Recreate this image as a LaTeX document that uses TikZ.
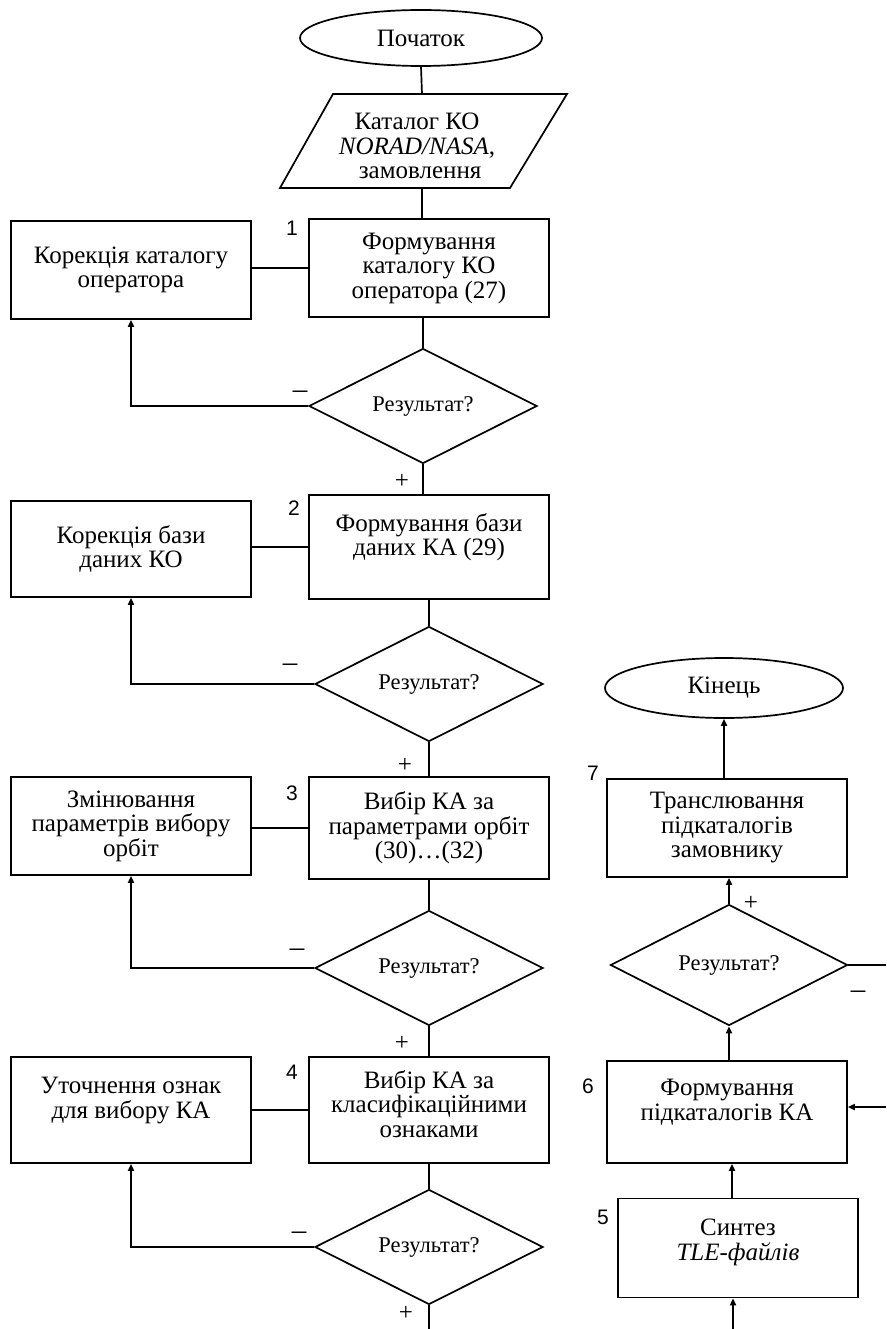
\documentclass[tikz,border=0pt]{standalone}
\usepackage{fontspec}
\setmainfont{Liberation Serif}
\newfontfamily\numfont{Liberation Sans}
\usetikzlibrary{shapes.geometric,arrows.meta}

\begin{document}
\begin{tikzpicture}[x=1pt,y=-1pt,line width=1.7pt,
  font=\fontsize{25}{24.5}\selectfont,
  blok/.style={draw,rectangle,minimum width=240pt,align=center,inner sep=0pt},
  umova/.style={draw,diamond,aspect=2,minimum width=228pt,minimum height=115pt,inner sep=0pt,
    font=\fontsize{22.5}{24}\selectfont},
  termin/.style={draw,ellipse,minimum width=242pt,minimum height=56pt,inner sep=0pt},
  nomer/.style={font=\numfont\fontsize{21}{24}\selectfont},
  znak/.style={font=\fontsize{25}{26}\selectfont},
  minus/.style={font=\fontsize{29}{30}\selectfont},
  strilka/.style={-{Triangle[length=7pt,width=6pt]}}]

\useasboundingbox (0,0) rectangle (886,1329);

\node[termin] (pochatok) at (421,38) {\raisebox{-3pt}{Початок}};

\coordinate (kat-n) at (422,94);
\coordinate (kat-s) at (422,188);
\draw (333,94) -- (567,94) -- (510,188) -- (280,188) -- cycle;
\node[align=center] (katalog) at (417,146) {Каталог КО\\\textit{NORAD/NASA},\\\ замовлення};
\draw (pochatok.south) -- (kat-n);

\node[blok,minimum height=98pt] (form1) at (429,268) {Формування\\каталогу КО\\оператора (27)};
\node[blok,minimum height=98pt] (kor1) at (131,270) {Корекція каталогу\\оператора};
\node[umova] (rez1) at (423,406) {Результат?};
\node[nomer] (n1) at (292,228) {1};
\node[minus] (minus1) at (300,395) {–};
\node[znak] (plus1) at (402,481) {+};
\draw (kat-s) -- (kat-s |- form1.north);
\draw (form1.south -| rez1.north) -- (rez1.north);
\draw (kor1.east |- form1.west) -- (form1.west);
\draw[strilka] (rez1.west) -| (kor1.south);

\node[blok,minimum height=104pt] (form2) at (429,547) {Формування бази\\даних КА (29)\\~};
\node[blok,minimum height=96pt] (kor2) at (131,549) {Корекція бази\\даних КО};
\node[umova] (rez2) at (429,684) {Результат?};
\node[nomer] (n2) at (294,508) {2};
\node[minus] (minus2) at (290,668) {–};
\node[znak] (plus2) at (405,765) {+};
\draw (rez1.south) -- (rez1.south |- form2.north);
\draw (form2.south) -- (rez2.north);
\draw (kor2.east |- form2.west) -- (form2.west);
\draw[strilka] (rez2.west) -| (kor2.south);

\node[blok,minimum height=102pt] (form3) at (429,828) {Вибір КА за\\параметрами орбіт\\(30)…(32)};
\node[blok,minimum height=98pt] (kor3) at (131,826) {Змінювання\\параметрів вибору\\орбіт};
\node[umova] (rez3) at (429,968) {Результат?};
\node[nomer] (n3) at (292,793) {3};
\node[minus] (minus3) at (297,953) {–};
\node[znak] (plus3) at (402,1043) {+};
\draw (rez2.south) -- (rez2.south |- form3.north);
\draw (form3.south) -- (rez3.north);
\draw (kor3.east |- form3.west) -- (form3.west);
\draw[strilka] (rez3.west) -| (kor3.south);

\node[blok,minimum height=106pt] (form4) at (429,1110) {Вибір КА за\\класифікаційними\\ознаками\\[-12pt]~};
\node[blok,minimum height=106pt] (kor4) at (131,1110) {Уточнення ознак\\для вибору КА\\~};
\node[umova] (rez4) at (429,1247) {Результат?};
\node[nomer] (n4) at (292,1072) {4};
\node[minus] (minus4) at (299,1236) {–};
\node[znak] (plus4) at (406,1313) {+};
\coordinate (vyhid) at (429,1329);
\draw (rez3.south) -- (rez3.south |- form4.north);
\draw (form4.south) -- (rez4.north);
\draw (kor4.east |- form4.west) -- (form4.west);
\draw[strilka] (rez4.west) -| (kor4.south);
\draw (rez4.south) -- (vyhid);

\node[termin,minimum width=238pt,minimum height=60pt] (kinec) at (724,688) {Кінець};
\node[blok,minimum height=98pt] (form7) at (727,828) {Транслювання\\підкаталогів\\замовнику};
\node[umova,minimum width=237pt,minimum height=121pt] (rez5) at (729,965) {Результат?};
\node[blok,minimum height=102pt] (form6) at (727,1112) {Формування\\підкаталогів КА\\~};
\node[blok,minimum height=99pt] (form5) at (738,1248) {Синтез\\\textit{TLE-файлів}\\[-8pt]~};
\node[nomer] (n7) at (593,773) {7};
\node[nomer] (n6) at (588,1086) {6};
\node[nomer] (n5) at (603,1217) {5};
\node[znak] (plus5) at (751,903) {+};
\node[minus] (minus5) at (858,995) {–};
\coordinate (pravo1) at (886,965);
\coordinate (pravo2) at (886,1107);
\coordinate (vhid) at (733,1329);
\draw[strilka] (form7.north -| kinec.south) -- (kinec.south);
\draw[strilka] (rez5.north) -- (rez5.north |- form7.south);
\draw[strilka] (form6.north -| rez5.south) -- (rez5.south);
\draw (rez5.east) -- (pravo1);
\draw[strilka] (pravo2) -- (pravo2 -| form6.east);
\draw[strilka] (form5.north -| 732,0) -- (732,0 |- form6.south);
\draw[strilka] (vhid) -- (vhid |- form5.south);

\end{tikzpicture}
\end{document}
